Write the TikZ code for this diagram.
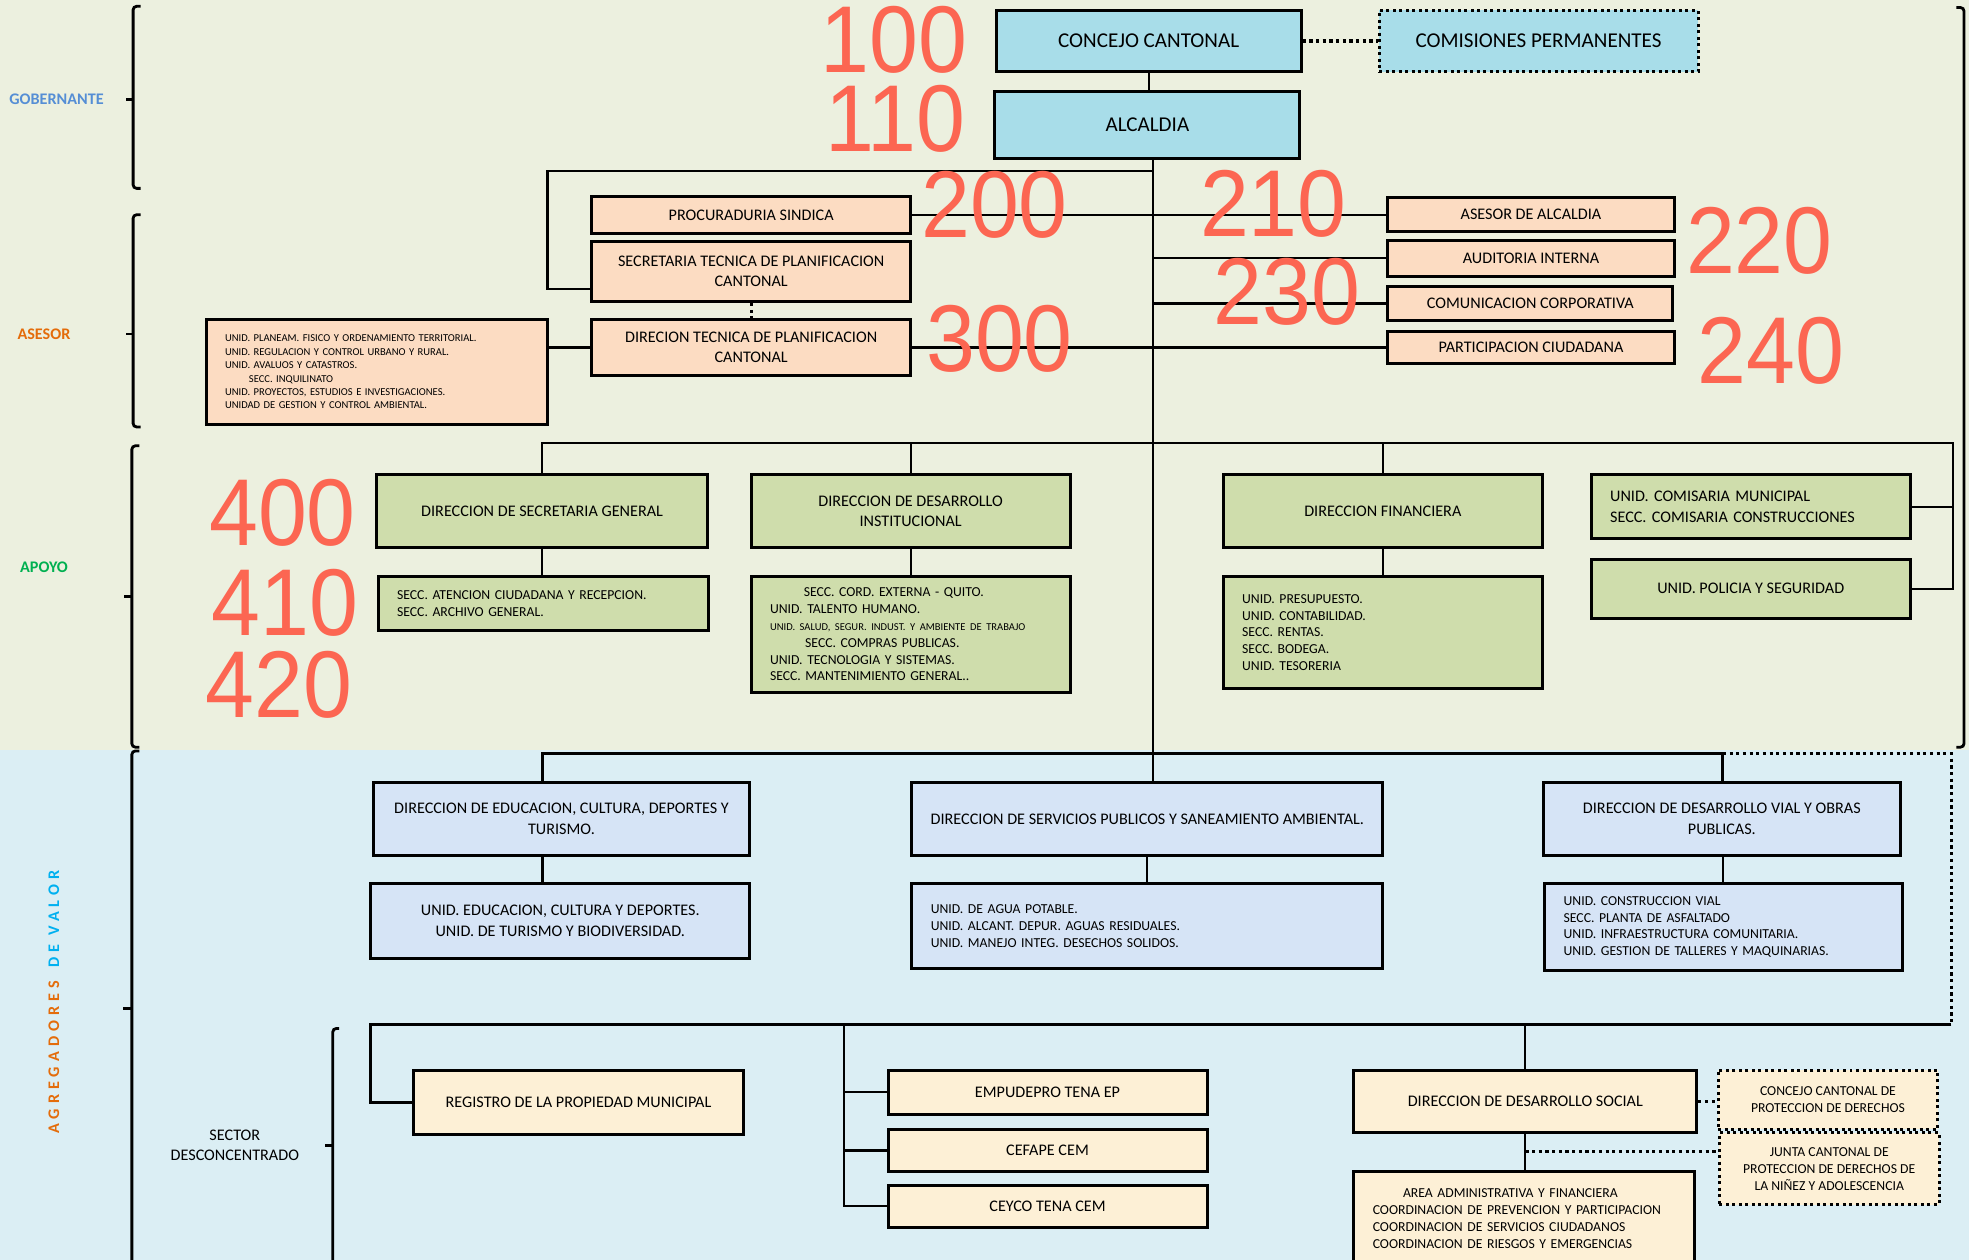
\documentclass[tikz,border=0pt]{standalone}
\usepackage{fontspec}
\setmainfont{Carlito}
\newfontfamily\numfont{Liberation Sans}
\usetikzlibrary{positioning}
\definecolor{my_beige}{RGB}{236, 240, 223}
\definecolor{my_ice}{RGB}{219, 238, 244}
\definecolor{my_water}{RGB}{168, 221, 233}
\definecolor{my_peach}{RGB}{252, 220, 194}
\definecolor{my_green}{RGB}{207, 221, 172}
\definecolor{my_sky}{RGB}{214, 228, 246}
\definecolor{my_cream}{RGB}{253, 240, 214}
\definecolor{my_red}{RGB}{252, 102, 82}
\definecolor{my_gob}{RGB}{85, 142, 213}
\definecolor{my_orange}{RGB}{228, 108, 10}
\definecolor{my_apoyo}{RGB}{0, 176, 80}
\definecolor{my_cyan}{RGB}{0, 176, 240}
\newcommand{\px}{0.12557mm}
\newcommand{\bigtxt}{\fontsize{6}{7}\selectfont}
\newcommand{\boxtxt}{\fontsize{4.6}{5.8}\selectfont}
\newcommand{\listtxt}{\fontsize{3.9}{4.8}\selectfont}
\newcommand{\tinytxt}{\fontsize{3}{3.8}\selectfont}
\tikzset {
  box/.style = {draw, line width=0.85pt, rectangle, anchor=north west, inner sep=0pt, align=center, font=\boxtxt},
  dims/.style 2 args = {minimum width=#1*\px, minimum height=#2*\px},
  water/.style = {box, fill=my_water, font=\bigtxt},
  peach/.style = {box, fill=my_peach},
  leaf/.style = {box, fill=my_green},
  sky/.style = {box, fill=my_sky},
  cream/.style = {box, fill=my_cream},
  dotbox/.style = {densely dotted},
  line/.style = {line width=0.6pt, color=black},
  bar/.style = {line width=0.9pt, color=black},
  dotline/.style = {line width=0.9pt, densely dotted},
  brace/.style = {line width=0.8pt, rounded corners=1pt},
  codenum/.style = {font=\numfont\fontsize{25}{25}\selectfont, text=my_red, inner sep=0pt, yscale=1.08},
  grouplabel/.style = {font=\boxtxt\bfseries, inner sep=0pt, align=center}
}

\begin{document}
\begin{tikzpicture}[x=\px, y=-\px]

    \useasboundingbox (0,0) rectangle (1568,1003);
    \clip (0,0) rectangle (1568,1003);
    \fill[my_beige] (0,0) rectangle (1568,597);
    \fill[my_ice] (0,597) rectangle (1568,1003);

    % levels on the left
    \draw[brace] (112,5) -- (106,5) -- (106,150) -- (112,150);
    \draw[brace] (106,79) -- (100,79);
    \node[grouplabel, text=my_gob] (gobernante) at (45,79) {GOBERNANTE};
    \draw[brace] (112,171) -- (106,171) -- (106,340) -- (112,340);
    \draw[brace] (106,266) -- (100,266);
    \node[grouplabel, text=my_orange] (asesor) at (35,266) {ASESOR};
    \draw[brace] (111,355) -- (105,355) -- (105,595) -- (111,595);
    \draw[brace] (105,475) -- (99,475);
    \node[grouplabel, text=my_apoyo] (apoyo) at (35,452) {APOYO};
    \draw[brace] (111,598) -- (105,598) -- (105,1010);
    \draw[brace] (105,803) -- (98,803);
    \node[grouplabel, rotate=90] (agregadores) at (43,798) {\addfontfeature{LetterSpace=31}\textcolor{my_orange}{AGREGADORES}\hspace{1.5pt} \textcolor{my_cyan}{DE VALOR}};
    \draw[brace] (270,819) -- (265,819) -- (265,1010);
    \draw[brace] (265,912) -- (259,912);
    \node[grouplabel, font=\boxtxt] (sector) at (187,912) {SECTOR\\DESCONCENTRADO};
    \draw[brace] (1558,6) -- (1564,6) -- (1564,595) -- (1558,595);

    % gobernante
    \node[water, dims={243}{49}] (concejo) at (792,7) {CONCEJO CANTONAL};
    \node[water, dotbox, dims={254}{49}] (comisiones) at (1097,7) {COMISIONES PERMANENTES};
    \node[water, dims={243}{53}] (alcaldia) at (791,72) {ALCALDIA};

    % asesor
    \node[peach, dims={254}{30}] (procuraduria) at (470,155) {PROCURADURIA SINDICA};
    \node[peach, dims={254}{48}] (secretaria) at (470,191) {SECRETARIA TECNICA DE PLANIFICACION\\CANTONAL};
    \node[peach, dims={254}{45}] (dirplan) at (470,253) {DIRECION TECNICA DE PLANIFICACION\\CANTONAL};
    \node[peach, dims={272}{84}, text width=242*\px, align=left, font=\tinytxt] (unidplan) at (163,253) {UNID. PLANEAM. FISICO Y ORDENAMIENTO TERRITORIAL.\\UNID. REGULACION Y CONTROL URBANO Y RURAL.\\UNID. AVALUOS Y CATASTROS.\\\hspace*{6.8pt}SECC. INQUILINATO\\UNID. PROYECTOS, ESTUDIOS E INVESTIGACIONES.\\UNIDAD DE GESTION Y CONTROL AMBIENTAL.};
    \node[peach, dims={228}{27}] (asesoria) at (1104,156) {ASESOR DE ALCALDIA};
    \node[peach, dims={228}{29}] (auditoria) at (1104,190) {AUDITORIA INTERNA};
    \node[peach, dims={227}{27}] (comunicacion) at (1104,227) {COMUNICACION CORPORATIVA};
    \node[peach, dims={228}{25}] (participacion) at (1104,263) {PARTICIPACION CIUDADANA};

    % apoyo
    \node[leaf, dims={263}{58}] (dirsecretaria) at (299,377) {DIRECCION DE SECRETARIA GENERAL};
    \node[leaf, dims={263}{43}, text width=233*\px, align=left, font=\listtxt] (secciones) at (300,458) {SECC. ATENCION CIUDADANA Y RECEPCION.\\SECC. ARCHIVO GENERAL.};
    \node[leaf, dims={254}{58}] (dirinstitucional) at (597,377) {DIRECCION DE DESARROLLO\\INSTITUCIONAL};
    \node[leaf, dims={254}{92}, text width=224*\px, align=left, font=\listtxt] (unidinstitucional) at (597,458) {\hspace*{9.6pt}SECC. CORD. EXTERNA - QUITO.\\UNID. TALENTO HUMANO.\\{\tinytxt UNID. SALUD, SEGUR. INDUST. Y AMBIENTE DE TRABAJO}\\\hspace*{10pt}SECC. COMPRAS PUBLICAS.\\UNID. TECNOLOGIA Y SISTEMAS.\\SECC. MANTENIMIENTO GENERAL..};
    \node[leaf, dims={254}{58}] (dirfinanciera) at (973,377) {DIRECCION FINANCIERA};
    \node[leaf, dims={254}{89}, text width=224*\px, align=left, font=\listtxt] (unidfinanciera) at (973,458) {UNID. PRESUPUESTO.\\UNID. CONTABILIDAD.\\SECC. RENTAS.\\SECC. BODEGA.\\UNID. TESORERIA};
    \node[leaf, dims={254}{51}, text width=224*\px, align=left] (comisaria) at (1266,377) {UNID. COMISARIA MUNICIPAL\\SECC. COMISARIA CONSTRUCCIONES};
    \node[leaf, dims={254}{47}] (policia) at (1266,444) {UNID. POLICIA Y SEGURIDAD};

    % agregadores de valor
    \node[sky, dims={300}{58}] (direducacion) at (296,622) {DIRECCION DE EDUCACION, CULTURA, DEPORTES Y\\TURISMO.};
    \node[sky, dims={302}{60}] (unideducacion) at (294,702) {UNID. EDUCACION, CULTURA Y DEPORTES.\\UNID. DE TURISMO Y BIODIVERSIDAD.};
    \node[sky, dims={375}{58}] (dirservicios) at (725,622) {DIRECCION DE SERVICIOS PUBLICOS Y SANEAMIENTO AMBIENTAL.};
    \node[sky, dims={375}{68}, text width=345*\px, align=left, font=\listtxt] (unidservicios) at (725,702) {UNID. DE AGUA POTABLE.\\UNID. ALCANT. DEPUR. AGUAS RESIDUALES.\\UNID. MANEJO INTEG. DESECHOS SOLIDOS.};
    \node[sky, dims={284}{58}] (dirvial) at (1228,622) {DIRECCION DE DESARROLLO VIAL Y OBRAS\\PUBLICAS.};
    \node[sky, dims={285}{70}, text width=255*\px, align=left, font=\listtxt] (unidvial) at (1229,702) {UNID. CONSTRUCCION VIAL\\SECC. PLANTA DE ASFALTADO\\UNID. INFRAESTRUCTURA COMUNITARIA.\\UNID. GESTION DE TALLERES Y MAQUINARIAS.};

    % sector desconcentrado
    \node[cream, dims={263}{51}] (registro) at (328,851) {REGISTRO DE LA PROPIEDAD MUNICIPAL};
    \node[cream, dims={254}{35}] (empudepro) at (706,851) {EMPUDEPRO TENA EP};
    \node[cream, dims={254}{34}] (cefape) at (706,898) {CEFAPE CEM};
    \node[cream, dims={254}{33}] (ceyco) at (706,943) {CEYCO TENA CEM};
    \node[cream, dims={273}{50}] (dirsocial) at (1077,851) {DIRECCION DE DESARROLLO SOCIAL};
    \node[cream, dotbox, dims={175}{47}, font=\listtxt] (proteccion) at (1367,851) {CONCEJO CANTONAL DE\\PROTECCION DE DERECHOS};
    \node[cream, dotbox, dims={175}{57}, font=\listtxt] (junta) at (1368,901) {JUNTA CANTONAL DE\\PROTECCION DE DERECHOS DE\\LA NIÑEZ Y ADOLESCENCIA};
    \node[cream, dims={271}{74}, text width=241*\px, align=left, font=\listtxt] (unidsocial) at (1077,932) {\hspace*{8.6pt}AREA ADMINISTRATIVA Y FINANCIERA\\COORDINACION DE PREVENCION Y PARTICIPACION\\COORDINACION DE SERVICIOS CIUDADANOS\\COORDINACION DE RIESGOS Y EMERGENCIAS};

    % connectors
    \coordinate (trunk) at (918,600);
    \draw[line] (concejo.south) -- (concejo.south |- alcaldia.north);
    \draw[dotline] (concejo.east) -- (comisiones.west);
    \draw[line] (alcaldia.south -| trunk) -- (trunk);

    \coordinate (asesorcorner) at (436,136);
    \coordinate (secretariajoin) at (436,230);
    \draw[line] (asesorcorner -| trunk) -- (asesorcorner) -- (secretariajoin) -- (secretariajoin -| secretaria.west);
    \draw[line] (procuraduria.east) -- (procuraduria.east -| asesoria.west);
    \draw[line] (auditoria.west) -- (auditoria.west -| trunk);
    \draw[line] (comunicacion.west) -- (comunicacion.west -| trunk);
    \draw[line] (dirplan.west -| unidplan.east) -- (dirplan.west);
    \draw[line] (dirplan.east) -- (dirplan.east -| participacion.west);
    \draw[dotline] (secretaria.south) -- (dirplan.north);

    \coordinate (apoyoright) at (1555,353);
    \draw[line] (dirsecretaria.north) |- (apoyoright) |- (policia.east);
    \draw[line] (comisaria.east) -- (comisaria.east -| apoyoright);
    \draw[line] (dirinstitucional.north) -- (dirinstitucional.north |- apoyoright);
    \draw[line] (dirfinanciera.north) -- (dirfinanciera.north |- apoyoright);
    \draw[line] (dirsecretaria.south) -- (dirsecretaria.south |- secciones.north);
    \draw[line] (dirinstitucional.south) -- (dirinstitucional.south |- unidinstitucional.north);
    \draw[line] (dirfinanciera.south) -- (dirfinanciera.south |- unidfinanciera.north);

    \coordinate (agrleft) at (432,600);
    \coordinate (agrright) at (1372,600);
    \coordinate (agrend) at (1554,600);
    \draw[bar] (agrleft |- direducacion.north) -- (agrleft) -- (agrright) -- (agrright |- dirvial.north);
    \draw[line] (trunk) -- (trunk |- dirservicios.north);
    \draw[line] (agrleft |- direducacion.south) -- (agrleft |- unideducacion.north);
    \draw[line] (dirservicios.south) -- (dirservicios.south |- unidservicios.north);
    \draw[line] (agrright |- dirvial.south) -- (agrright |- unidvial.north);

    \coordinate (sectorleft) at (295,816);
    \coordinate (sectorright) at (1554,816);
    \coordinate (sectormid) at (672,816);
    \draw[dotline] (agrright) -- (agrend) -- (sectorright);
    \draw[bar] (sectorright) -- (sectorleft) |- (registro.west);
    \draw[line] (sectormid) |- (ceyco.west);
    \draw[line] (empudepro.west) -- (empudepro.west -| sectormid);
    \draw[line] (cefape.west) -- (cefape.west -| sectormid);
    \draw[line] (dirsocial.north) -- (dirsocial.north |- sectorright);
    \draw[line] (dirsocial.south) -- (dirsocial.south |- unidsocial.north);
    \draw[dotline] (dirsocial.east) -- (dirsocial.east -| proteccion.west);
    \coordinate (juntajoin) at (1211,917);
    \draw[dotline] (dirsocial.south |- juntajoin) -- (juntajoin -| junta.west);

    % codes
    \node[codenum] (n100) at (712,32) {100};
    \node[codenum] (n110) at (713,95) {110};
    \node[codenum] (n200) at (792,163) {200};
    \node[codenum] (n210) at (1014,162) {210};
    \node[codenum] (n220) at (1401,192) {220};
    \node[codenum] (n230) at (1025,232) {230};
    \node[codenum] (n240) at (1410,279) {240};
    \node[codenum] (n300) at (796,270) {300};
    \node[codenum] (n400) at (225,408) {400};
    \node[codenum] (n410) at (227,480) {410};
    \node[codenum] (n420) at (222,545) {420};

\end{tikzpicture}
\end{document}
